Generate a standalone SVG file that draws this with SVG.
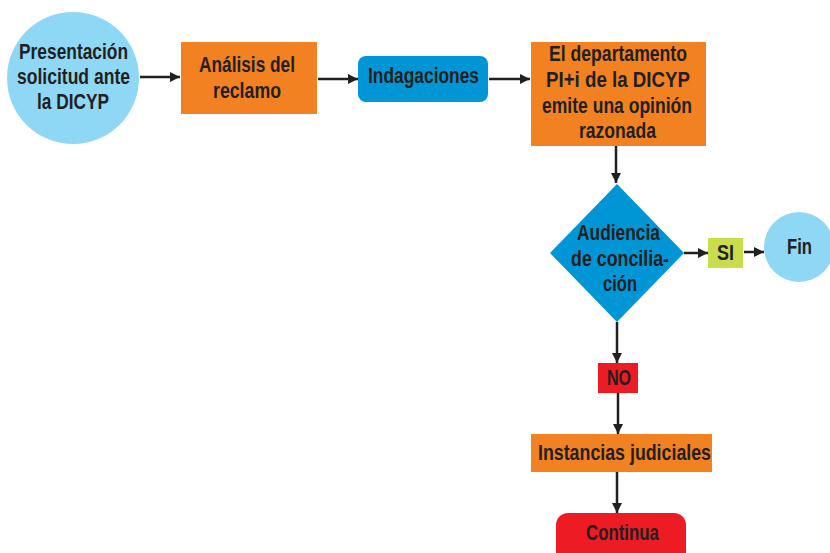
<svg xmlns="http://www.w3.org/2000/svg" width="830" height="553" viewBox="0 0 830 553">
<style>
text{font-family:"Liberation Sans",Arial,sans-serif;font-weight:bold;font-size:22px;fill:#231f20;text-anchor:middle;dominant-baseline:central}
.circ{fill:#8fd8f5}
.orange{fill:#f28221}
.blue{fill:#0096d6}
.red{fill:#ed1c24}
.green{fill:#c8dc4c}
.conn line{stroke:#231f20;stroke-width:2.5}
</style>
<defs>
<marker id="ah" viewBox="0 0 10 10" refX="10" refY="5" markerWidth="4" markerHeight="4" orient="auto" markerUnits="strokeWidth">
<path d="M0,0 L10,5 L0,10 z" fill="#231f20"/>
</marker>
</defs>
<rect width="830" height="553" fill="#ffffff"/>
<g class="conn">
<line x1="140" y1="77" x2="180" y2="77" marker-end="url(#ah)"/>
<line x1="318" y1="79" x2="358" y2="79" marker-end="url(#ah)"/>
<line x1="489" y1="79" x2="530" y2="79" marker-end="url(#ah)"/>
<line x1="616" y1="146" x2="616" y2="183" marker-end="url(#ah)"/>
<line x1="684" y1="253" x2="708" y2="253" marker-end="url(#ah)"/>
<line x1="744" y1="252" x2="764" y2="252" marker-end="url(#ah)"/>
<line x1="617" y1="322" x2="617" y2="363" marker-end="url(#ah)"/>
<line x1="618" y1="393" x2="618" y2="434" marker-end="url(#ah)"/>
<line x1="617" y1="472" x2="617" y2="513" marker-end="url(#ah)"/>
</g>
<g id="presentacion">
<circle class="circ" cx="73" cy="78" r="66"/>
<text x="73.5" y="51" textLength="109" lengthAdjust="spacingAndGlyphs">Presentación</text>
<text x="73.5" y="76" textLength="113" lengthAdjust="spacingAndGlyphs">solicitud ante</text>
<text x="73" y="101" textLength="72" lengthAdjust="spacingAndGlyphs">la DICYP</text>
</g>
<g id="analisis">
<rect class="orange" x="181" y="42" width="136" height="72"/>
<text x="247" y="64" textLength="96" lengthAdjust="spacingAndGlyphs">Análisis del</text>
<text x="247" y="90" textLength="68" lengthAdjust="spacingAndGlyphs">reclamo</text>
</g>
<g id="indagaciones">
<rect class="blue" x="358" y="56" width="130" height="46" rx="8"/>
<text x="423.5" y="75" textLength="111" lengthAdjust="spacingAndGlyphs">Indagaciones</text>
</g>
<g id="departamento">
<rect class="orange" x="531" y="42" width="175" height="104"/>
<text x="618" y="53" textLength="138" lengthAdjust="spacingAndGlyphs">El departamento</text>
<text x="618" y="79" textLength="144" lengthAdjust="spacingAndGlyphs">PI+i de la DICYP</text>
<text x="617" y="105" textLength="150" lengthAdjust="spacingAndGlyphs">emite una opinión</text>
<text x="617.5" y="130" textLength="77" lengthAdjust="spacingAndGlyphs">razonada</text>
</g>
<g id="audiencia">
<polygon class="blue" points="617,184 684,253 617,322 550,253"/>
<text x="618.5" y="232" textLength="83" lengthAdjust="spacingAndGlyphs">Audiencia</text>
<text x="620" y="258" textLength="98" lengthAdjust="spacingAndGlyphs">de concilia-</text>
<text x="620" y="283" textLength="34" lengthAdjust="spacingAndGlyphs">ción</text>
</g>
<g id="si">
<rect class="green" x="708" y="238" width="35" height="30"/>
<text x="725.5" y="252" textLength="17" lengthAdjust="spacingAndGlyphs">SI</text>
</g>
<g id="fin">
<circle class="circ" cx="799" cy="247" r="35"/>
<text x="799.5" y="246" textLength="25" lengthAdjust="spacingAndGlyphs">Fin</text>
</g>
<g id="no">
<rect class="red" x="598" y="363" width="40" height="30"/>
<text x="619" y="377" textLength="24" lengthAdjust="spacingAndGlyphs">NO</text>
</g>
<g id="instancias">
<rect class="orange" x="531" y="434" width="181" height="38"/>
<text x="624.5" y="452" textLength="173" lengthAdjust="spacingAndGlyphs">Instancias judiciales</text>
</g>
<g id="continua">
<rect class="red" x="556" y="513" width="130" height="60" rx="12"/>
<text x="622.5" y="532" textLength="73" lengthAdjust="spacingAndGlyphs">Continua</text>
</g>
</svg>
